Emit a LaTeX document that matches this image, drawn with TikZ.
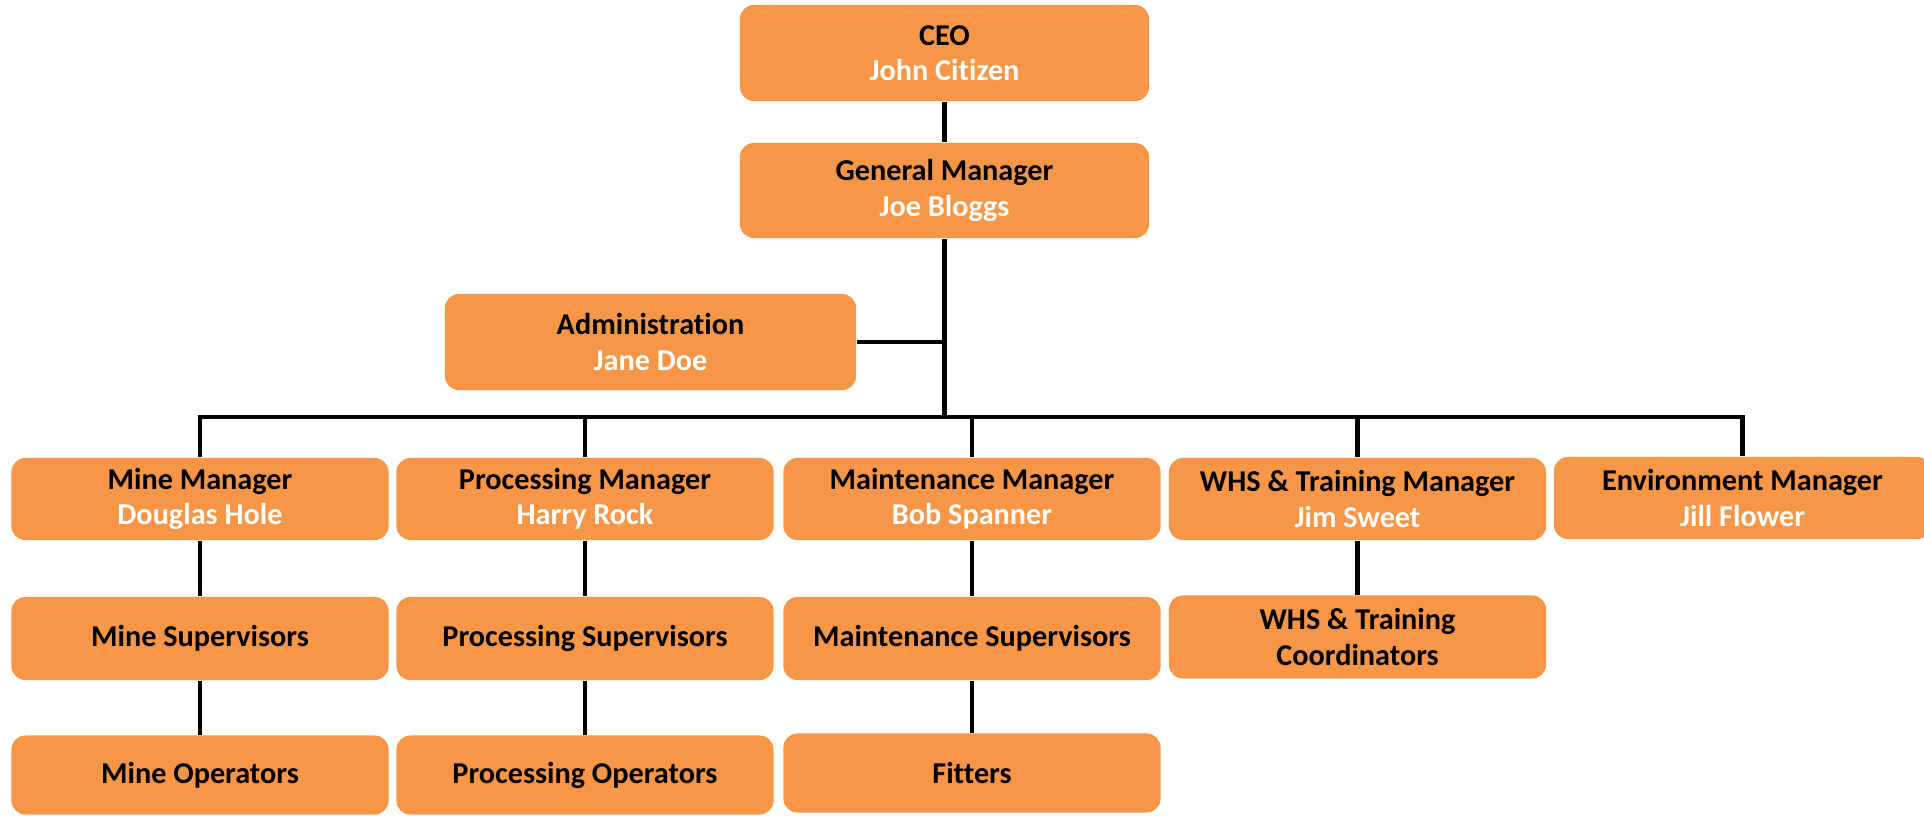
\documentclass[tikz,border=0pt]{standalone}
\usepackage{fontspec}
\setmainfont{Carlito}[Ligatures=NoCommon]
\usetikzlibrary{calc}
\definecolor{boxorange}{HTML}{F79646}
\newcommand{\who}[1]{\textcolor{white}{#1}}

\begin{document}
\begin{tikzpicture}[%
x=0.01cm, y=-0.01cm,
box/.style={fill=boxorange, rounded corners=0.14cm, minimum width=3.77cm, minimum height=0.82cm, inner sep=0pt, align=center, font=\fontsize{8.6}{10}\selectfont\bfseries},
link/.style={draw=black, line width=1.4pt},
]
\useasboundingbox (0,0) rectangle (1924,815);
\clip (0,0) rectangle (1924,815);
%% top;
\node [box, minimum width=4.09cm, minimum height=0.96cm] (ceo) at (944.5,53) {CEO\\\who{John Citizen}};
\node [box, minimum width=4.09cm, minimum height=0.95cm] (gm) at (944.5,190.5) {General Manager\\\who{Joe Bloggs}};
\node [box, minimum width=4.11cm, minimum height=0.96cm] (admin) at (650.5,342) {Administration\\\who{Jane Doe}};
%% managers;
\node [box] (mine) at (200,499) {Mine Manager\\\who{Douglas Hole}};
\node [box] (proc) at (585,499) {Processing Manager\\\who{Harry Rock}};
\node [box] (maint) at (972,499) {Maintenance Manager\\\who{Bob Spanner}};
\node [box] (whs) at (1357.5,499) {WHS \& Training Manager\\\who{Jim Sweet}};
\node [box] (env) at (1742.5,498) {Environment Manager\\\who{Jill Flower}};
%% supervisors;
\node [box, minimum height=0.83cm] (minesup) at (200,638.5) {Mine Supervisors};
\node [box, minimum height=0.83cm] (procsup) at (585,638.5) {Processing Supervisors};
\node [box, minimum height=0.83cm] (maintsup) at (972,638.5) {Maintenance Supervisors};
\node [box, minimum height=0.83cm] (whscoord) at (1357.5,637) {WHS \& Training\\Coordinators};
%% operators;
\node [box, minimum height=0.79cm] (mineop) at (200,775) {Mine Operators};
\node [box, minimum height=0.79cm] (procop) at (585,775) {Processing Operators};
\node [box, minimum height=0.79cm] (fitters) at (972,773) {Fitters};
%% links;
\coordinate (bus) at (0,417);
\draw [link] (ceo.south) -- (gm.north);
\draw [link] (gm.south) -- (gm.south |- bus);
\draw [link] (admin.east) -- (admin.east -| gm.south);
\draw [link] (mine.north) |- (env.north |- bus) -- (env.north);
\foreach \n in {proc,maint,whs}
  \draw [link] (\n.north) -- (\n.north |- bus);
\draw [link] (mine.south) -- (minesup.north);
\draw [link] (minesup.south) -- (mineop.north);
\draw [link] (proc.south) -- (procsup.north);
\draw [link] (procsup.south) -- (procop.north);
\draw [link] (maint.south) -- (maintsup.north);
\draw [link] (maintsup.south) -- (fitters.north);
\draw [link] (whs.south) -- (whscoord.north);
\end{tikzpicture}
\end{document}
